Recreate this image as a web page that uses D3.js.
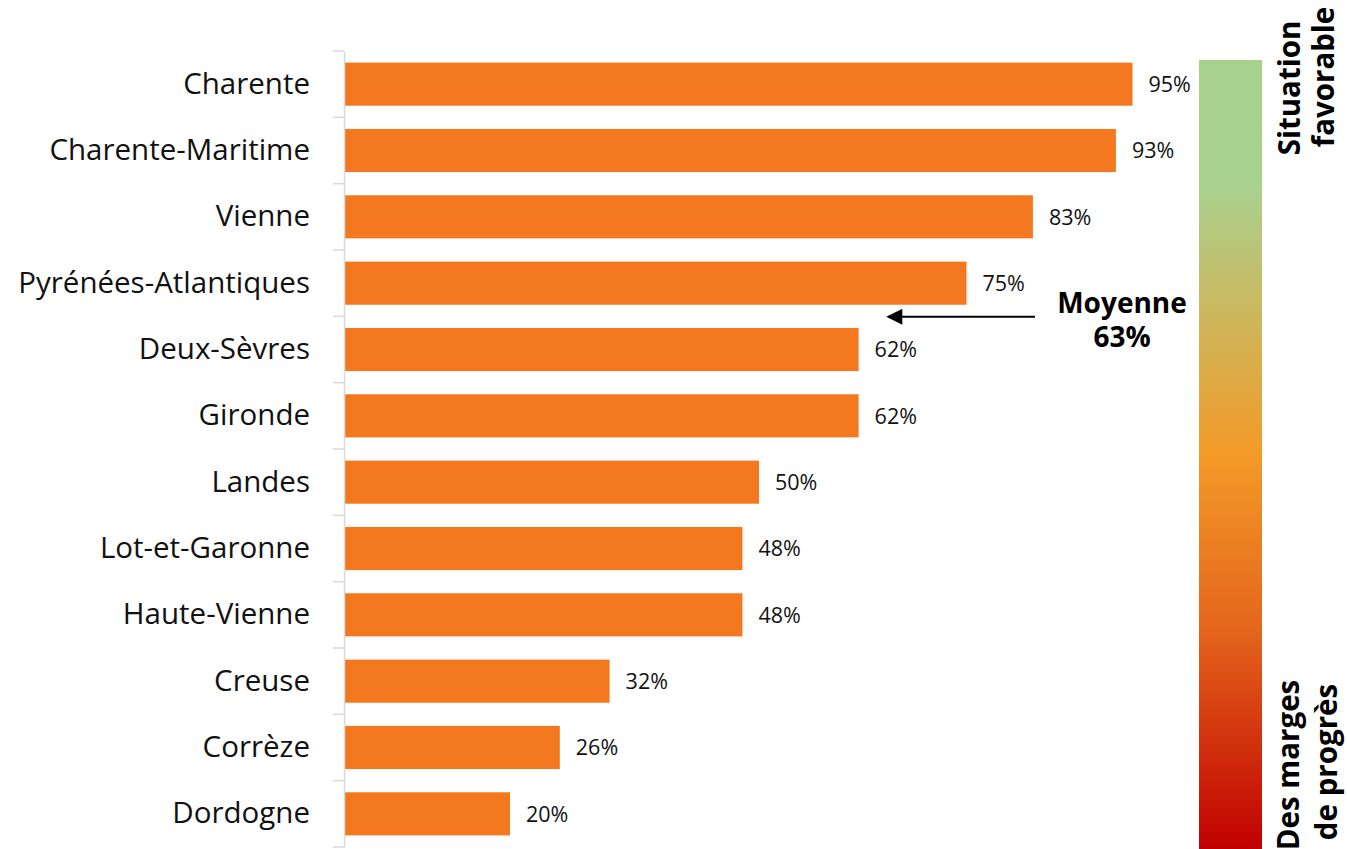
<!DOCTYPE html>
<html>
<head>
<meta charset="utf-8">
<script src="https://cdn.jsdelivr.net/npm/d3@7"></script>
<style>
  html, body { margin: 0; padding: 0; background: #fff; }
  svg { display: block; font-family: "Open Sans", "Noto Sans", sans-serif; }
</style>
</head>
<body>
<svg id="chart" width="1347" height="849"></svg>
<script>
// Share per department (sorted, highest first)
const departements = ["Charente", "Charente-Maritime", "Vienne", "Pyrénées-Atlantiques",
  "Deux-Sèvres", "Gironde", "Landes", "Lot-et-Garonne", "Haute-Vienne", "Creuse",
  "Corrèze", "Dordogne"];
const taux = [0.95, 0.93, 0.83, 0.75, 0.62, 0.62, 0.50, 0.48, 0.48, 0.32, 0.26, 0.20];
const moyenne = 0.63;
const moyenneLabel = ["Moyenne", "63%"];
const echelleHaut = ["Situation", "favorable"];
const echelleBas = ["Des marges", "de progrès"];

const svg = d3.select("#chart");
const fmt = d3.format(".0%");

const x = d3.scaleLinear().domain([0, 1]).range([344, 1174]);
const y = d3.scaleBand().domain(departements).range([51, 847])
  .paddingInner(0.35).paddingOuter(0.175);

// Bars
svg.append("g").selectAll("rect")
  .data(departements)
  .join("rect")
  .attr("x", x(0) + 1)
  .attr("y", d => y(d))
  .attr("width", (d, i) => x(taux[i]) - x(0) - 1)
  .attr("height", y.bandwidth())
  .attr("fill", "#f4781f");

// Value labels
svg.append("g").selectAll("text")
  .data(departements)
  .join("text")
  .attr("x", (d, i) => x(taux[i]) + 16)
  .attr("y", d => y(d) + y.bandwidth() / 2)
  .attr("dy", "0.37em")
  .attr("font-size", 21.5)
  .attr("fill", "#111")
  .text((d, i) => fmt(taux[i]));

// Category axis with ticks between rows
const axisG = svg.append("g").attr("transform", `translate(${x(0)},0)`);
axisG.call(d3.axisLeft(y).tickSize(0).tickPadding(34))
  .call(g => g.select(".domain").attr("stroke", "#d9d9d9").attr("stroke-width", 1.5))
  .call(g => g.selectAll("text").attr("font-size", 29.5).attr("fill", "#111")
    .attr("font-family", "\"Open Sans\", sans-serif"));
const bounds = d3.range(departements.length + 1).map(i => y.range()[0] + i * y.step());
axisG.selectAll("line.sep")
  .data(bounds)
  .join("line")
  .attr("class", "sep")
  .attr("x1", -11).attr("x2", 0)
  .attr("y1", d => d).attr("y2", d => d)
  .attr("stroke", "#d9d9d9").attr("stroke-width", 1.5);

// Average annotation
const defs = svg.append("defs");
defs.append("marker")
  .attr("id", "fleche")
  .attr("viewBox", "0 0 10 10")
  .attr("refX", 9).attr("refY", 5)
  .attr("markerWidth", 17).attr("markerHeight", 16)
  .attr("markerUnits", "userSpaceOnUse")
  .attr("orient", "auto")
  .append("path")
  .attr("d", "M0,0 L10,5 L0,10 z")
  .attr("fill", "#000");

const ay = y("Pyrénées-Atlantiques") + y.bandwidth() + (y.step() - y.bandwidth()) / 2 + 0.5;
svg.append("line")
  .attr("x1", 1035).attr("x2", x(moyenne) + 21)
  .attr("y1", ay).attr("y2", ay)
  .attr("stroke", "#000").attr("stroke-width", 2)
  .attr("marker-end", "url(#fleche)");

svg.append("g").selectAll("text")
  .data(moyenneLabel)
  .join("text")
  .attr("x", 1122)
  .attr("y", (d, i) => 313 + i * 34)
  .attr("text-anchor", "middle")
  .attr("font-size", 28)
  .attr("font-weight", "bold")
  .attr("fill", "#000")
  .text(d => d);

// Colour scale strip on the right
const grad = defs.append("linearGradient")
  .attr("id", "echelle")
  .attr("x1", 0).attr("y1", 0).attr("x2", 0).attr("y2", 1);
[[0, "#a9d18e"], [0.16, "#a9d18e"], [0.5, "#f39a28"], [0.72, "#e4661c"], [1, "#c00000"]]
  .forEach(([o, c]) => grad.append("stop").attr("offset", o).attr("stop-color", c));
svg.append("rect")
  .attr("x", 1199).attr("y", 60)
  .attr("width", 63).attr("height", 789)
  .attr("fill", "url(#echelle)");

function vertical(lines, positions) {
  svg.append("g").selectAll("text")
    .data(lines)
    .join("text")
    .attr("transform", (d, i) => `translate(${positions[i][0]},${positions[i][1]}) rotate(-90)`)
    .attr("text-anchor", "middle")
    .attr("font-size", 29.5)
    .attr("font-weight", "bold")
    .attr("fill", "#000")
    .text(d => d);
}
vertical(echelleHaut, [[1300, 88], [1334, 77]]);
vertical(echelleBas, [[1299, 765], [1337, 762]]);
</script>
</body>
</html>
